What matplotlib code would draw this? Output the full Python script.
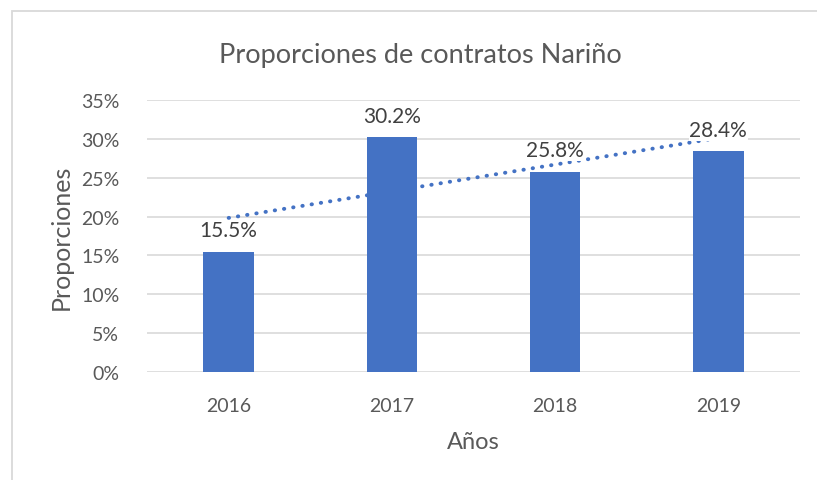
import numpy as np
import matplotlib.pyplot as plt
from matplotlib.patches import Rectangle
from matplotlib.ticker import PercentFormatter

years = ["2016", "2017", "2018", "2019"]
proporciones = [15.5, 30.2, 25.8, 28.4]

blue = "#4472C4"
grey_txt = "#595959"

plt.rcParams['font.family'] = ['Lato', 'DejaVu Sans']

fig = plt.figure(figsize=(8.17, 4.81), dpi=100)
ax = fig.add_axes([0.18, 0.2245, 0.799, 0.5655])

x = np.arange(len(years))
vals = np.array(proporciones) / 100
ax.bar(x, vals, width=0.31, color=blue, zorder=3)

# linear trendline, like Excel's
coef = np.polyfit(x, vals, 1)
ax.plot(x, np.polyval(coef, x), linestyle=(0, (0.1, 2.3)), color=blue,
        linewidth=2.8, dash_capstyle='round', zorder=2)

for xi, v in zip(x, vals):
    ax.annotate(f"{v*100:.1f}%", (xi, v), xytext=(0, 8), textcoords='offset points',
                ha='center', va='bottom', fontsize=15, color="#404040", zorder=4,
                bbox=dict(facecolor='white', edgecolor='none', pad=0.3))

ax.set_xlim(-0.5, 3.5)
ax.set_ylim(0, 0.35)
ax.set_yticks(np.arange(0, 0.351, 0.05))
ax.yaxis.set_major_formatter(PercentFormatter(1.0, decimals=0))
ax.set_xticks(x, years)
ax.tick_params(length=0, labelsize=14, labelcolor=grey_txt)
ax.tick_params(axis='y', pad=20)
ax.tick_params(axis='x', pad=18)
ax.grid(axis='y', color="#D9D9D9", linewidth=1.2, zorder=0)
for s in ax.spines.values():
    s.set_visible(False)

ax.set_xlabel("Años", fontsize=17, color=grey_txt, labelpad=12)
ax.set_ylabel("Proporciones", fontsize=18, color=grey_txt, labelpad=6)
fig.text(0.514, 0.885, "Proporciones de contratos Nariño", ha='center', va='center',
         fontsize=19.5, color=grey_txt)

# chart area border
fig.patches.append(Rectangle((12/817, -0.1), 1.2, 1 - 12/481 + 0.1, transform=fig.transFigure,
                             fill=False, edgecolor="#D9D9D9", linewidth=1.3))

fig.savefig("out.png", dpi=100)
